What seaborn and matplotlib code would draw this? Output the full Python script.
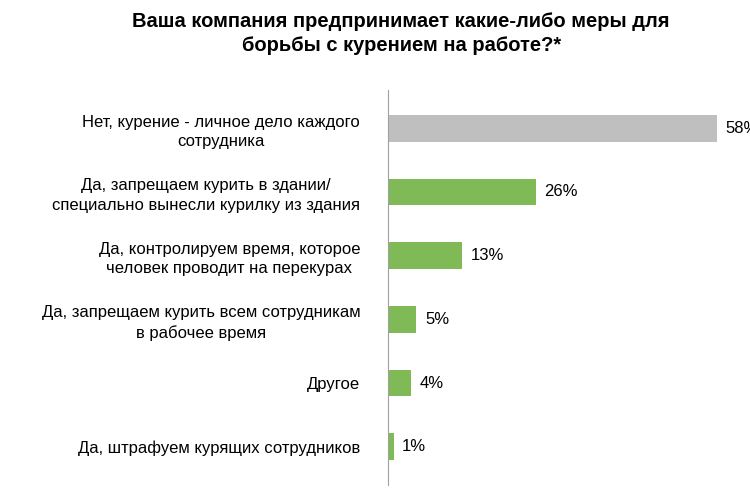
import matplotlib
matplotlib.use("Agg")
import matplotlib.pyplot as plt
import seaborn as sns
import pandas as pd

categories = ["Нет, курение - личное дело каждого\nсотрудника",
              "Да, запрещаем курить в здании/\nспециально вынесли курилку из здания",
              "Да, контролируем время, которое\nчеловек проводит на перекурах",
              "Да, запрещаем курить всем сотрудникам\nв рабочее время",
              "Другое",
              "Да, штрафуем курящих сотрудников"]
values = [58, 26, 13, 5, 4, 1]
colors = ["#BFBFBF", "#7DCB45", "#7DCB45", "#7DCB45", "#7DCB45", "#7DCB45"]

plt.rcParams["font.family"] = "Liberation Sans"
df = pd.DataFrame({"cat": categories, "val": values})
fig = plt.figure(figsize=(7.5, 4.95), dpi=100)
ax = fig.add_axes([388/750, 10/495, 352/750, 395/495])
sns.barplot(data=df, x="val", y="cat", hue="cat", palette=colors, legend=False,
            width=0.42, ax=ax)
ax.set_xlim(0, 62)
ax.set_ylim(5.6, -0.6)
for i, v in enumerate(values):
    ax.text(v + 1.5, i, f"{v}%", va="center", ha="left", fontsize=12, clip_on=False)
ax.set_xlabel(""); ax.set_ylabel("")
ax.set_xticks([])
for s in ["top", "right", "bottom"]:
    ax.spines[s].set_visible(False)
ax.spines["left"].set_color("#A0A0A0")
ax.tick_params(axis="y", length=0, pad=20)
for t in ax.get_yticklabels():
    t.set_fontsize(12)
    t.set_multialignment("center")
    t.set_linespacing(1.35)
fig.text(0.535, 0.975, "Ваша компания предпринимает какие-либо меры для\nборьбы с курением на работе?*",
         ha="center", va="top", fontsize=14.5, fontweight="bold", linespacing=1.3)
fig.savefig("out.png", dpi=100)
